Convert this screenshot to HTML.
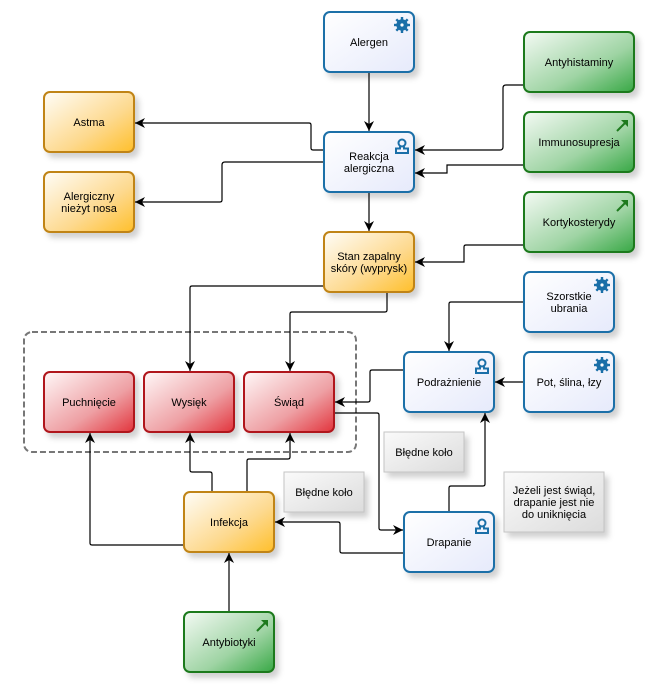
<!DOCTYPE html>
<html><head><meta charset="utf-8"><style>
html,body{margin:0;padding:0;background:#fff}
svg{display:block}
text{font-family:"Liberation Sans",sans-serif;font-size:11px;fill:#000;text-anchor:middle}
</style></head><body>
<svg width="653" height="690" viewBox="0 0 653 690" xmlns="http://www.w3.org/2000/svg">
<defs>
<linearGradient id="gb" x1="0" y1="0" x2="1" y2="1"><stop offset="0" stop-color="#ffffff"/><stop offset="1" stop-color="#e6eafb"/></linearGradient>
<linearGradient id="go" x1="0" y1="0" x2="1" y2="1"><stop offset="0" stop-color="#fffdf8"/><stop offset="0.6" stop-color="#fdd98e"/><stop offset="1" stop-color="#ffbf2a"/></linearGradient>
<linearGradient id="gr" x1="0" y1="0" x2="1" y2="1"><stop offset="0" stop-color="#fff8f8"/><stop offset="0.6" stop-color="#eea0a4"/><stop offset="1" stop-color="#e2343c"/></linearGradient>
<linearGradient id="gg" x1="0" y1="0" x2="1" y2="1"><stop offset="0" stop-color="#f4faf4"/><stop offset="0.6" stop-color="#9fd4a4"/><stop offset="1" stop-color="#38a845"/></linearGradient>
<linearGradient id="gn" x1="0" y1="0" x2="1" y2="1"><stop offset="0" stop-color="#fafafa"/><stop offset="1" stop-color="#dcdcdc"/></linearGradient>
<filter id="sh" x="-20%" y="-20%" width="150%" height="160%"><feDropShadow dx="4" dy="5" stdDeviation="3" flood-color="#000" flood-opacity="0.18"/></filter>
<marker id="ar" viewBox="0 0 10 10" refX="10" refY="5" markerWidth="10" markerHeight="10" markerUnits="userSpaceOnUse" orient="auto"><path d="M0,0 L10,5 L0,10 L3,5 z" fill="#000"/></marker>
<g id="gear"><circle r="4.2" fill="none" stroke="#1a6fa8" stroke-width="3"/><g stroke="#1a6fa8" stroke-width="2.4"><line x1="0" y1="-8" x2="0" y2="8"/><line x1="-8" y1="0" x2="8" y2="0"/><line x1="-5.7" y1="-5.7" x2="5.7" y2="5.7"/><line x1="-5.7" y1="5.7" x2="5.7" y2="-5.7"/></g><circle r="1.6" fill="#fff"/></g>
<g id="pers" fill="none" stroke="#1a6fa8" stroke-width="2"><circle cx="0" cy="-3" r="3.5"/><path d="M-2,0.5 V2.5 H-6 V7 H6 V2.5 H2 V0.5"/></g>
<g id="arr"><line x1="-5" y1="5" x2="4" y2="-4" stroke="#1e7a1e" stroke-width="2"/><path d="M6,-6 L6,1 L-1,-6 z" fill="#1e7a1e"/></g>
</defs>

<!-- group -->
<rect x="24" y="332" width="332" height="120" rx="8" fill="none" stroke="#777" stroke-width="2" stroke-dasharray="6,3"/>

<!-- connectors -->
<g fill="none" stroke="#000" stroke-width="1.2">
<path d="M369,72 V131" marker-end="url(#ar)"/>
<path d="M369,192 V231" marker-end="url(#ar)"/>
<path d="M324,150 H313 Q311,150 311,148 V125 Q311,123 309,123 H135" marker-end="url(#ar)"/>
<path d="M324,162 H225 Q222,162 222,165 V200 Q222,202 220,202 H135" marker-end="url(#ar)"/>
<path d="M524,85 H506 Q503,85 503,88 V147 Q503,150 500,150 H415" marker-end="url(#ar)"/>
<path d="M524,165 H447 V173 H415" marker-end="url(#ar)"/>
<path d="M524,245 H466 Q464,245 464,247 V262 H415" marker-end="url(#ar)"/>
<path d="M324,286 H192 Q190,286 190,288 V371" marker-end="url(#ar)"/>
<path d="M387,292 V310 Q387,312 385,312 H292 Q290,312 290,314 V371" marker-end="url(#ar)"/>
<path d="M524,302 H451 Q449,302 449,304 V351" marker-end="url(#ar)"/>
<path d="M524,382 H495" marker-end="url(#ar)"/>
<path d="M404,370 H372 Q370,370 370,372 V400 Q370,402 368,402 H335" marker-end="url(#ar)"/>
<path d="M334,413 H377 Q379,413 379,415 V528 Q379,530 381,530 H403" marker-end="url(#ar)"/>
<path d="M449,512 V488 Q449,486 451,486 H483 Q485,486 485,484 V413" marker-end="url(#ar)"/>
<path d="M404,553 H342 Q340,553 340,551 V524 Q340,522 338,522 H275" marker-end="url(#ar)"/>
<path d="M212,492 V474 Q212,472 210,472 H192 Q190,472 190,470 V433" marker-end="url(#ar)"/>
<path d="M247,492 V461 Q247,459 249,459 H288 Q290,459 290,457 V433" marker-end="url(#ar)"/>
<path d="M184,545 H92 Q90,545 90,543 V433" marker-end="url(#ar)"/>
<path d="M229,612 V553" marker-end="url(#ar)"/>
</g>

<!-- nodes -->
<g stroke-width="2" filter="url(#sh)">
<rect x="324" y="12" width="90" height="60" rx="6" fill="url(#gb)" stroke="#1a6fa8"/>
<rect x="324" y="132" width="90" height="60" rx="6" fill="url(#gb)" stroke="#1a6fa8"/>
<rect x="324" y="232" width="90" height="60" rx="6" fill="url(#go)" stroke="#c08416"/>
<rect x="524" y="32" width="110" height="60" rx="6" fill="url(#gg)" stroke="#1e7a1e"/>
<rect x="524" y="112" width="110" height="60" rx="6" fill="url(#gg)" stroke="#1e7a1e"/>
<rect x="524" y="192" width="110" height="60" rx="6" fill="url(#gg)" stroke="#1e7a1e"/>
<rect x="524" y="272" width="90" height="60" rx="6" fill="url(#gb)" stroke="#1a6fa8"/>
<rect x="524" y="352" width="90" height="60" rx="6" fill="url(#gb)" stroke="#1a6fa8"/>
<rect x="404" y="352" width="90" height="60" rx="6" fill="url(#gb)" stroke="#1a6fa8"/>
<rect x="404" y="512" width="90" height="60" rx="6" fill="url(#gb)" stroke="#1a6fa8"/>
<rect x="44" y="92" width="90" height="60" rx="6" fill="url(#go)" stroke="#c08416"/>
<rect x="44" y="172" width="90" height="60" rx="6" fill="url(#go)" stroke="#c08416"/>
<rect x="44" y="372" width="90" height="60" rx="6" fill="url(#gr)" stroke="#b0181e"/>
<rect x="144" y="372" width="90" height="60" rx="6" fill="url(#gr)" stroke="#b0181e"/>
<rect x="244" y="372" width="90" height="60" rx="6" fill="url(#gr)" stroke="#b0181e"/>
<rect x="184" y="492" width="90" height="60" rx="6" fill="url(#go)" stroke="#c08416"/>
<rect x="184" y="612" width="90" height="60" rx="6" fill="url(#gg)" stroke="#1e7a1e"/>
</g>
<g stroke="#c4c4c4" stroke-width="1" filter="url(#sh)">
<rect x="384" y="432" width="80" height="40" fill="url(#gn)"/>
<rect x="284" y="472" width="80" height="40" fill="url(#gn)"/>
<rect x="504" y="472" width="100" height="60" fill="url(#gn)"/>
</g>

<!-- icons -->
<use href="#gear" x="402" y="25"/>
<use href="#gear" x="602" y="285"/>
<use href="#gear" x="602" y="365"/>
<use href="#pers" x="402" y="146"/>
<use href="#pers" x="482" y="366"/>
<use href="#pers" x="482" y="526"/>
<use href="#arr" x="622" y="126"/>
<use href="#arr" x="622" y="206"/>
<use href="#arr" x="262" y="626"/>

<!-- labels -->
<text x="369" y="46">Alergen</text>
<text x="369" y="160">Reakcja</text><text x="369" y="172">alergiczna</text>
<text x="369" y="260">Stan zapalny</text><text x="369" y="272">skóry (wyprysk)</text>
<text x="579" y="66">Antyhistaminy</text>
<text x="579" y="146">Immunosupresja</text>
<text x="579" y="226">Kortykosterydy</text>
<text x="569" y="300">Szorstkie</text><text x="569" y="312">ubrania</text>
<text x="569" y="386">Pot, ślina, łzy</text>
<text x="449" y="386">Podrażnienie</text>
<text x="449" y="546">Drapanie</text>
<text x="89" y="126">Astma</text>
<text x="89" y="200">Alergiczny</text><text x="89" y="212">nieżyt nosa</text>
<text x="89" y="406">Puchnięcie</text>
<text x="189" y="406">Wysięk</text>
<text x="289" y="406">Świąd</text>
<text x="229" y="526">Infekcja</text>
<text x="229" y="646">Antybiotyki</text>
<text x="424" y="456">Błędne koło</text>
<text x="324" y="496">Błędne koło</text>
<text x="554" y="494">Jeżeli jest świąd,</text><text x="554" y="506">drapanie jest nie</text><text x="554" y="518">do uniknięcia</text>
</svg>
</body></html>
